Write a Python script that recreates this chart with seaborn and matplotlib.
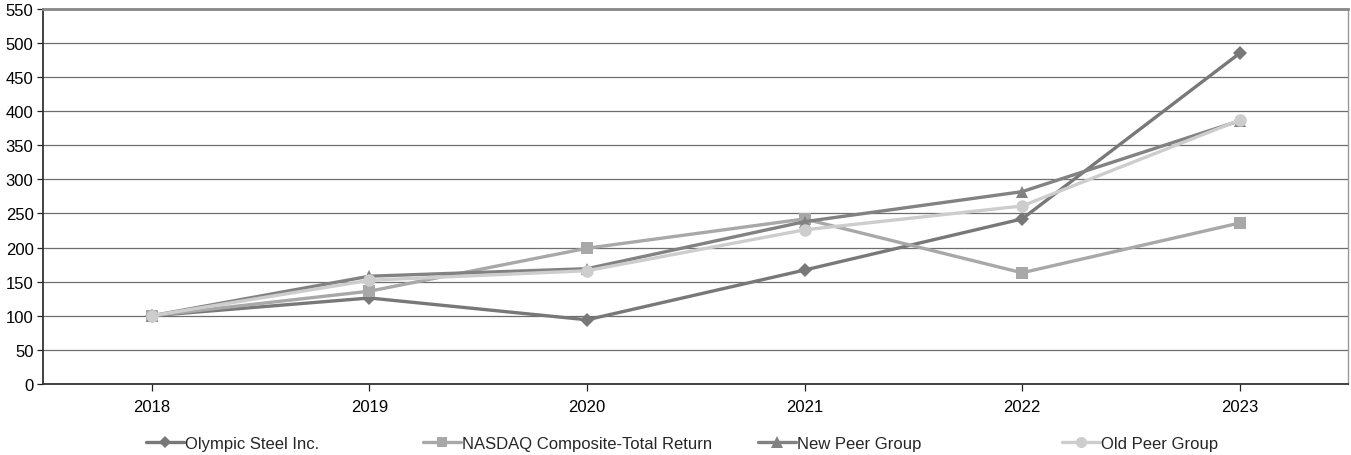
import matplotlib
matplotlib.use("Agg")
import matplotlib.pyplot as plt
from matplotlib.lines import Line2D
import seaborn as sns
import pandas as pd

years = [2018, 2019, 2020, 2021, 2022, 2023]
olympic = [100, 126, 94, 167, 242, 485]
nasdaq = [100, 136, 199, 242, 163, 236]
new_peer = [100, 158, 169, 238, 282, 386]
old_peer = [100, 152, 166, 226, 261, 387]

series_names = ["Olympic Steel Inc.", "NASDAQ Composite-Total Return",
                "New Peer Group", "Old Peer Group"]
series_values = [olympic, nasdaq, new_peer, old_peer]
colors = ["#787878", "#a8a8a8", "#828282", "#cdcdcd"]
markers = ["D", "s", "^", "o"]
msizes = [7, 8, 9, 9]

rows = []
for name, vals in zip(series_names, series_values):
    for y, v in zip(years, vals):
        rows.append({"year": y, "value": v, "series": name})
df = pd.DataFrame(rows)

sns.set_theme(style="white")
plt.rcParams["font.family"] = ["Liberation Sans", "DejaVu Sans"]

fig = plt.figure(figsize=(13.51, 4.56), dpi=100)
ax = fig.add_axes([0.032, 0.156, 0.966, 0.822])

palette = dict(zip(series_names, colors))
mk = dict(zip(series_names, markers))
sns.lineplot(data=df, x="year", y="value", hue="series", style="series",
             palette=palette, markers=mk, dashes=False, linewidth=2.4,
             markersize=9, markeredgewidth=0, ax=ax, legend=False,
             hue_order=series_names, style_order=series_names)
for line, ms in zip(ax.get_lines(), msizes):
    line.set_markersize(ms)

ax.set_xlim(2017.5, 2023.5)
ax.set_ylim(0, 550)
ax.set_yticks(range(0, 551, 50))
ax.set_xticks(years)
ax.set_xticklabels([str(y) for y in years])
ax.set_xlabel("")
ax.set_ylabel("")
ax.yaxis.grid(True, color="#6e6e6e", linewidth=0.9)
ax.set_axisbelow(True)
ax.tick_params(axis="both", labelsize=12, colors="#222222",
               length=4, width=0.9, direction="out", pad=3)
ax.tick_params(axis="y", left=True, length=4)
ax.tick_params(axis="x", bottom=True, length=5, pad=6)
for lbl in ax.get_xticklabels() + ax.get_yticklabels():
    lbl.set_color("black")

ax.spines["left"].set_color("#333333")
ax.spines["left"].set_linewidth(1.3)
ax.spines["bottom"].set_color("#333333")
ax.spines["bottom"].set_linewidth(1.3)
ax.spines["top"].set_color("#888888")
ax.spines["top"].set_linewidth(2.0)
ax.spines["right"].set_color("#999999")
ax.spines["right"].set_linewidth(1.0)

# one legend entry per slot along the bottom
slot_x = [0.108, 0.313, 0.561, 0.786]
for i, (name, c, m, ms) in enumerate(zip(series_names, colors, markers, msizes)):
    h = Line2D([], [], color=c, marker=m, markersize=ms - 1, linewidth=2.4,
               markeredgewidth=0)
    fig.legend([h], [name], loc="center left",
               bbox_to_anchor=(slot_x[i], 0.026), frameon=False,
               fontsize=12, handlelength=2.3, handletextpad=0.05,
               borderaxespad=0, borderpad=0)

fig.savefig("out.png", dpi=100)
